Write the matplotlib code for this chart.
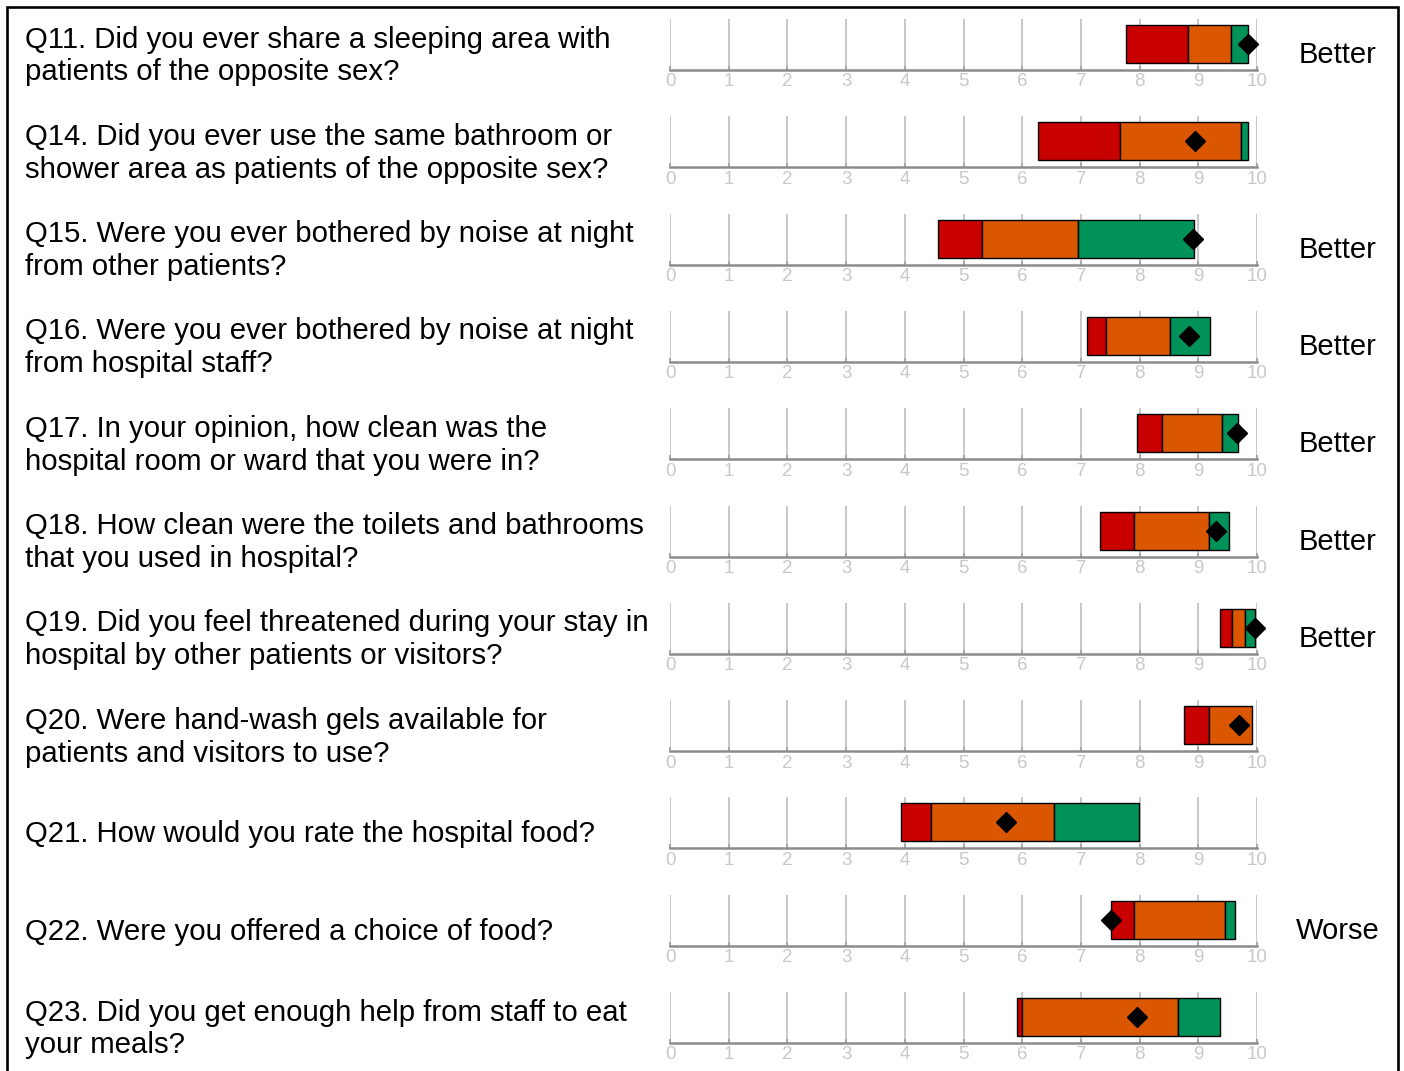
import matplotlib.pyplot as plt
from matplotlib.patches import Rectangle

plt.rcParams['font.family'] = ['Liberation Sans', 'DejaVu Sans']

questions = [
    "Q11. Did you ever share a sleeping area with\npatients of the opposite sex?",
    "Q14. Did you ever use the same bathroom or\nshower area as patients of the opposite sex?",
    "Q15. Were you ever bothered by noise at night\nfrom other patients?",
    "Q16. Were you ever bothered by noise at night\nfrom hospital staff?",
    "Q17. In your opinion, how clean was the\nhospital room or ward that you were in?",
    "Q18. How clean were the toilets and bathrooms\nthat you used in hospital?",
    "Q19. Did you feel threatened during your stay in\nhospital by other patients or visitors?",
    "Q20. Were hand-wash gels available for\npatients and visitors to use?",
    "Q21. How would you rate the hospital food?",
    "Q22. Were you offered a choice of food?",
    "Q23. Did you get enough help from staff to eat\nyour meals?",
]
# band edges on the 0-10 scale: lowest, red/orange, orange/green, highest
low = [7.77, 6.27, 4.57, 7.11, 7.96, 7.33, 9.37, 8.76, 3.94, 7.52, 5.91]
mid1 = [8.82, 7.66, 5.32, 7.42, 8.39, 7.90, 9.57, 9.18, 4.44, 7.91, 6.00]
mid2 = [9.56, 9.72, 6.95, 8.52, 9.40, 9.18, 9.80, 9.91, 6.54, 9.46, 8.66]
high = [9.85, 9.85, 8.92, 9.20, 9.68, 9.53, 9.97, 9.91, 7.99, 9.63, 9.37]
score = [9.84, 8.94, 8.91, 8.85, 9.66, 9.31, 9.97, 9.70, 5.72, 7.51, 7.96]
verdict = ["Better", "", "Better", "Better", "Better", "Better", "Better",
           "", "", "Worse", ""]
ticks = list(range(11))

RED, ORANGE, GREEN = '#C80000', '#DA5700', '#009259'

W, H = 1404, 1071
fig = plt.figure(figsize=(W / 100, H / 100), dpi=100)

# outer frame (bottom edge runs off the image)
fig.patches.append(Rectangle((7 / W, -0.01), (1398 - 7) / W, 1 - 7 / H + 0.01,
                             transform=fig.transFigure, fill=False,
                             edgecolor='black', linewidth=1.9))

x0, x1 = 670, 1257
ax_h = 51
for i, q in enumerate(questions):
    yb = 70 + 97.3 * i
    ax = fig.add_axes([x0 / W, 1 - yb / H, (x1 - x0) / W, ax_h / H])
    ax.set_xlim(0, 10)
    ax.set_ylim(0, 1)
    ax.vlines(ticks, 0, 1, color='#c8c8c8', linewidth=1.4, zorder=0)

    yc = 26 / ax_h
    hgt = 38 / ax_h
    ax.barh(yc, mid1[i] - low[i], left=low[i], height=hgt, color=RED,
            edgecolor='black', linewidth=1)
    ax.barh(yc, mid2[i] - mid1[i], left=mid1[i], height=hgt, color=ORANGE,
            edgecolor='black', linewidth=1)
    if high[i] > mid2[i]:
        ax.barh(yc, high[i] - mid2[i], left=mid2[i], height=hgt, color=GREEN,
                edgecolor='black', linewidth=1)
    ax.plot(score[i], yc, marker='D', color='black', markersize=10.5,
            linestyle='none', clip_on=False, zorder=5)

    for s in ['top', 'right', 'left']:
        ax.spines[s].set_visible(False)
    ax.spines['bottom'].set_color('#8c8c8c')
    ax.spines['bottom'].set_linewidth(1.8)
    ax.set_yticks([])
    ax.set_xticks(ticks)
    ax.set_xticklabels([str(t) for t in ticks])
    ax.tick_params(axis='x', direction='in', length=3, width=1.5,
                   color='#a8a8a8', labelcolor='#c8c8c8', labelsize=13.5,
                   pad=2.5)

    fig.text(25 / W, 1 - (yb - 14) / H, q, ha='left', va='center',
             fontsize=21.2, linespacing=1.22)
    if verdict[i]:
        fig.text(1338 / W, 1 - (yb - 15) / H, verdict[i], ha='center',
                 va='center', fontsize=21)

fig.savefig('out.png', dpi=100)
